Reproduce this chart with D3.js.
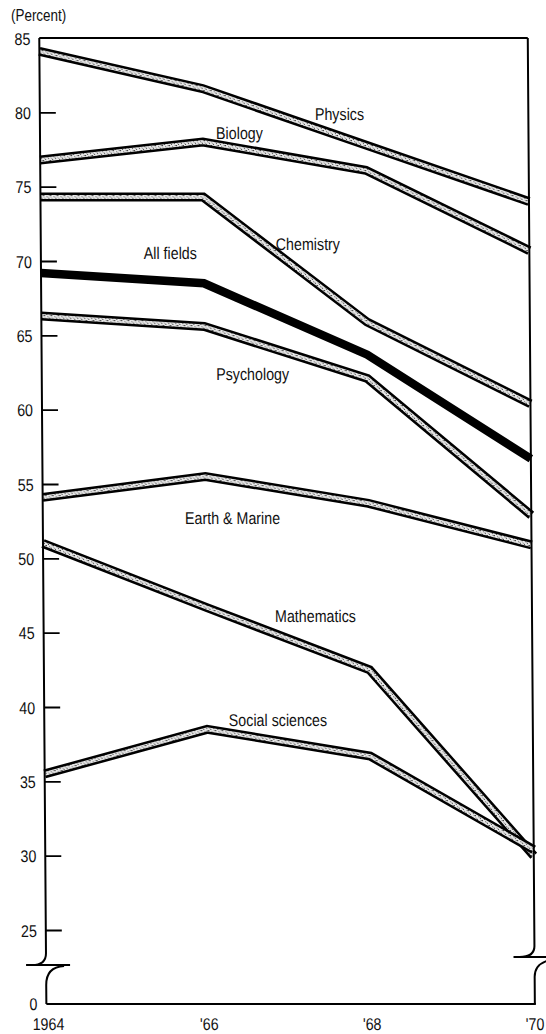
<!DOCTYPE html>
<html>
<head>
<meta charset="utf-8">
<script src="https://cdn.jsdelivr.net/npm/d3@7"></script>
<style>
  html, body { margin: 0; padding: 0; background: #fff; }
  svg { display: block; }
  text { font-family: "Liberation Sans", Arial, sans-serif; fill: #111; }
</style>
</head>
<body>
<div id="chart"></div>
<script>
// ---------- data ----------
const years = [1964, 1966, 1968, 1970];
const yearLabels = ["1964", "'66", "'68", "'70"];
const yTickValues = [85, 80, 75, 70, 65, 60, 55, 50, 45, 40, 35, 30, 25];

const physics        = [84.1, 81.6, 77.8, 74.0];
const biology        = [76.8, 78.0, 76.1, 70.7];
const chemistry      = [74.3, 74.3, 65.9, 60.4];
const allFields      = [69.2, 68.5, 63.7, 56.7];
const psychology     = [66.3, 65.6, 62.1, 52.9];
const earthMarine    = [54.1, 55.5, 53.7, 50.9];
const mathematics    = [51.0, 46.7, 42.5, 30.0];
const socialSciences = [35.5, 38.5, 36.7, 30.4];

const seriesNames = ["Physics", "Biology", "Chemistry", "All fields", "Psychology",
                     "Earth & Marine", "Mathematics", "Social sciences"];
const seriesValues = [physics, biology, chemistry, allFields, psychology,
                      earthMarine, mathematics, socialSciences];

// label anchors (year, value) for each series name
const labelYears  = [1967.68, 1966.45, 1967.28, 1965.59, 1966.59, 1966.33, 1967.34, 1966.87];
const labelValues = [79.49, 78.21, 70.75, 70.15, 62.02, 52.34, 45.75, 38.70];

// ---------- layout ----------
const W = 546, H = 1034;
const FS = 17, SX = 0.84;
const x = d3.scaleLinear().domain([1964, 1970]).range([39, 527.5]);
const y = d3.scaleLinear().domain([25, 85]).range([930, 38]);
const yZero = 1004;
const breakL = 965, breakR = 957;

const svg = d3.select("#chart").append("svg")
  .attr("width", W).attr("height", H)
  .style("background", "#fff");

// texture for the hatched lines
const defs = svg.append("defs");
const pat = defs.append("pattern").attr("id", "tex")
  .attr("patternUnits", "userSpaceOnUse").attr("width", 7).attr("height", 5);
pat.append("rect").attr("width", 7).attr("height", 5).attr("fill", "#e9e9e9");
[[0,0,"#333"],[3,1,"#666"],[5,3,"#222"],[1,3,"#888"],[6,0,"#777"],[2,4,"#444"],[4,2,"#999"],[5,0,"#bbb"],[0,2,"#aaa"]]
  .forEach(([px, py, c]) => pat.append("rect").attr("x", px).attr("y", py)
    .attr("width", 1).attr("height", 1).attr("fill", c));

// slight shear like the scanned original
const g = svg.append("g").attr("transform", "skewX(0.42)");

// helper for condensed text
function label(parent, tx, ty, str, anchor, size) {
  return parent.append("text")
    .attr("transform", `translate(${tx},${ty}) scale(${SX},1)`)
    .attr("text-anchor", anchor).attr("font-size", size || FS).text(str);
}

// ---------- lines ----------
const line = d3.line().x((d, i) => x(years[i])).y(d => y(d));

seriesNames.forEach((name, k) => {
  const vals = seriesValues[k];
  if (name === "All fields") {
    g.append("path").attr("d", line(vals))
      .attr("fill", "none").attr("stroke", "#000")
      .attr("stroke-width", 8.5).attr("stroke-linejoin", "miter");
  } else {
    g.append("path").attr("d", line(vals))
      .attr("fill", "none").attr("stroke", "#000")
      .attr("stroke-width", 9).attr("stroke-linejoin", "miter");
    g.append("path").attr("d", line(vals))
      .attr("fill", "none").attr("stroke", "url(#tex)")
      .attr("stroke-width", 4).attr("stroke-linejoin", "miter");
  }
});

// ---------- axes / frame ----------
const x0 = x(1964), x1 = x(1970);
const ax = g.append("g").attr("fill", "none").attr("stroke", "#000").attr("stroke-width", 2);
ax.append("line").attr("x1", x0).attr("x2", x1).attr("y1", y(85)).attr("y2", y(85));
ax.append("path").attr("d",
  `M${x0},${y(85)} L${x0},${breakL - 12} Q${x0},${breakL} ${x0 - 14},${breakL}`);
ax.append("line").attr("x1", x0 - 20).attr("x2", x0 + 24).attr("y1", breakL).attr("y2", breakL);
ax.append("path").attr("d",
  `M${x0 + 18},${breakL + 1} Q${x0},${breakL + 2} ${x0},${breakL + 20} L${x0},${yZero}`);
ax.append("path").attr("d",
  `M${x1},${y(85)} L${x1},${breakR - 11} Q${x1},${breakR} ${x1 - 15},${breakR}`);
ax.append("line").attr("x1", x1 - 21).attr("x2", x1 + 20).attr("y1", breakR).attr("y2", breakR);
ax.append("path").attr("d",
  `M${x1 + 12},${breakR + 4} Q${x1},${breakR + 8} ${x1},${breakR + 20} L${x1},${yZero}`);
ax.append("line").attr("x1", x0).attr("x2", x1 + 1).attr("y1", yZero).attr("y2", yZero);

// left ticks with d3 axis
const yAxis = d3.axisLeft(y).tickValues(yTickValues).tickFormat(d3.format("d"))
  .tickSizeInner(-16).tickSizeOuter(0).tickPadding(10);
const yg = g.append("g").attr("transform", `translate(${x0},0)`).call(yAxis);
yg.select(".domain").remove();
yg.selectAll(".tick line").attr("stroke", "#000").attr("stroke-width", 1.8)
  .filter(d => d === 85).remove();
yg.selectAll(".tick text")
  .attr("x", null).attr("dy", null)
  .attr("transform", `translate(-9,6) scale(${SX},1)`)
  .attr("font-size", FS)
  .style("font-family", "'Liberation Sans',Arial,sans-serif")
  .attr("fill", "#111");

// zero label
label(g, x0 - 9, yZero + 6, "0", "end");

// x labels
yearLabels.forEach((lab, i) => {
  label(g, x(years[i]) + (i === 0 ? 2 : 0), 1030, lab, "middle");
});

// series labels
seriesNames.forEach((name, k) => {
  label(g, x(labelYears[k]), y(labelValues[k]), name, "middle");
});

// unit label
label(svg, 11, 21, "(Percent)", "start", 16);
</script>
</body>
</html>
